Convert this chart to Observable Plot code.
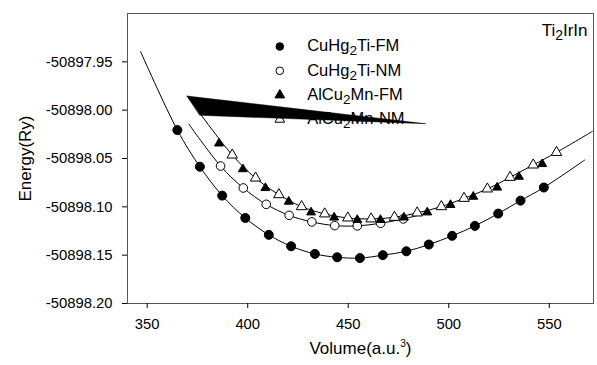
<!DOCTYPE html>
<html><head><meta charset="utf-8">
<script src="https://cdn.jsdelivr.net/npm/d3@7"></script>
<script src="https://cdn.jsdelivr.net/npm/@observablehq/plot@0.6"></script>
<style>body{margin:0;background:#fff}</style>
</head><body><div id="chart"></div>
<script>
// ---- data ----
const xTicks = [350, 400, 450, 500, 550];
const yTicks = [-50897.95, -50898.00, -50898.05, -50898.10, -50898.15, -50898.20];

// CuHg2Ti-FM (filled circles)
const cuFmVol = [365, 376.2, 387.3, 398.8, 410.5, 421.6, 433.4, 444.5, 455.8, 467.2, 478.9, 490.1, 501.7, 513, 524.6, 535.7, 547.3];
const cuFmE = [-50898.0206, -50898.0585, -50898.0884, -50898.1115, -50898.129, -50898.1408, -50898.1487, -50898.1522, -50898.153, -50898.150, -50898.146, -50898.139, -50898.130, -50898.1197, -50898.107, -50898.0936, -50898.080];
const cuFmFitVol = [346.7, 567.6];
const cuFmFitE = [-50897.9394, -50898.0516];

// CuHg2Ti-NM (open circles)
const cuNmVol = [386.5, 397.8, 409.2, 420.6, 431.9, 443.3, 454.5, 466.1, 477.4];
const cuNmE = [-50898.0578, -50898.0805, -50898.0974, -50898.1088, -50898.1156, -50898.1194, -50898.1197, -50898.117, -50898.1125];
const cuNmFitVol = [370.7, 490];
const cuNmFitE = [-50898.0144, -50898.1060];

// AlCu2Mn-FM (filled triangles)
const alFmVol = [385.7, 397.6, 408.8, 420.4, 431.5, 443, 454.5, 466, 477.7, 489.3, 500.9, 512.2, 524.1, 534.9, 546.5];
const alFmE = [-50898.0344, -50898.061, -50898.0805, -50898.0946, -50898.1057, -50898.111, -50898.1135, -50898.1135, -50898.111, -50898.1057, -50898.098, -50898.0895, -50898.080, -50898.0688, -50898.0557];

// AlCu2Mn-NM (open triangles)
const alNmVol = [392.3, 403.9, 415.5, 426.8, 438.3, 449.8, 461.4, 473, 484.3, 496.3, 507.6, 519.2, 530.5, 542, 553.6];
const alNmE = [-50898.0464, -50898.0702, -50898.0874, -50898.0998, -50898.1073, -50898.1115, -50898.1125, -50898.1108, -50898.1063, -50898.0998, -50898.0912, -50898.0815, -50898.0695, -50898.0567, -50898.0437];
const alFitVol = [369.9, 571.4];
const alFitE = [-50897.9854, -50898.022];

// black wedge artefact seen in the reference
const wedgeVol = [369.9, 488.5, 376.2];
const wedgeE = [-50897.9854, -50898.014, -50898.0053];

const legendLabels = ["CuHg_2Ti-FM", "CuHg_2Ti-NM", "AlCu_2Mn-FM", "AlCu_2Mn-NM"];
const legendSymbols = ["circle", "circle", "triangle", "triangle"];
const legendFills = ["black", "white", "black", "white"];

// ---- build tables ----
const pts = (v, e) => v.map((x, i) => ({v: x, e: e[i]}));
const fitLine = (fv, fe, v, e) => [{v: fv[0], e: fe[0]}, ...pts(v, e), {v: fv[1], e: fe[1]}];

const cuFm = pts(cuFmVol, cuFmE);
const cuNm = pts(cuNmVol, cuNmE);
const alFm = pts(alFmVol, alFmE);
const alNm = pts(alNmVol, alNmE);
const cuFmLine = fitLine(cuFmFitVol, cuFmFitE, cuFmVol, cuFmE);
const cuNmLine = fitLine(cuNmFitVol, cuNmFitE, cuNmVol, cuNmE);
const alLine = fitLine(alFitVol, alFitE, alNmVol, alNmE);
const wedge = pts(wedgeVol, wedgeE);

const legendMarks = [];
legendLabels.forEach((lab, i) => {
  legendMarks.push(Plot.dot([0], {frameAnchor: "top-left", dx: 152.3, dy: 33 + 24.3 * i,
    symbol: legendSymbols[i], fill: legendFills[i], stroke: "black", strokeWidth: 1, r: legendSymbols[i] === "circle" ? 3.8 : 3.6}));
  legendMarks.push(Plot.text([lab], {frameAnchor: "top-left", dx: 179.7, dy: 32.5 + 24.3 * i,
    textAnchor: "start", lineAnchor: "middle", fontSize: 16.5, fill: "black"}));
});

const chart = Plot.plot({
  width: 597, height: 365,
  marginLeft: 127, marginRight: 4, marginTop: 13, marginBottom: 62,
  style: {fontFamily: "'Liberation Sans', Arial, sans-serif", fontSize: "14.8px", color: "black", background: "white"},
  x: {domain: [340.2, 572]},
  y: {domain: [-50898.20, -50897.90]},
  marks: [
    Plot.frame({stroke: "#555", strokeWidth: 1}),
    Plot.axisX({ticks: xTicks, tickSize: 5, tickPadding: 10, fontSize: 14.8, label: null, tickFormat: d => String(d)}),
    Plot.axisY({ticks: yTicks, tickSize: 5, tickPadding: 10, fontSize: 14.8, label: null, tickFormat: d => d.toFixed(2)}),
    Plot.line(cuFmLine, {x: "v", y: "e", curve: "catmull-rom", stroke: "black", strokeWidth: 1}),
    Plot.line(cuNmLine, {x: "v", y: "e", curve: "catmull-rom", stroke: "black", strokeWidth: 1}),
    Plot.line(alLine, {x: "v", y: "e", curve: "catmull-rom", stroke: "black", strokeWidth: 1}),
    Plot.dot(cuFm, {x: "v", y: "e", symbol: "circle", r: 4.5, fill: "black", stroke: "black", strokeWidth: 1}),
    Plot.dot(cuNm, {x: "v", y: "e", symbol: "circle", r: 4.3, fill: "white", stroke: "black", strokeWidth: 1}),
    Plot.dot(alFm, {x: "v", y: "e", symbol: "triangle", r: 3.3, fill: "black", stroke: "black", strokeWidth: 1}),
    Plot.dot(alNm, {x: "v", y: "e", symbol: "triangle", r: 3.9, fill: "white", stroke: "black", strokeWidth: 1}),
    ...legendMarks,
    Plot.line(wedge, {x: "v", y: "e", fill: "black", stroke: "black", strokeWidth: 0.5, curve: "linear-closed"}),
    Plot.text(["Energy(Ry)"], {frameAnchor: "left", dx: -102, rotate: -90, textAnchor: "middle", lineAnchor: "middle", fontSize: 17, fill: "black"}),
    Plot.text(["Volume(a.u.^3)"], {frameAnchor: "bottom", dy: 45, textAnchor: "middle", lineAnchor: "middle", fontSize: 17, fill: "black"}),
    Plot.text(["Ti_2IrIn"], {frameAnchor: "top-right", dx: -6, dy: 17, textAnchor: "end", lineAnchor: "middle", fontSize: 17, fill: "black"})
  ]
});

// subscripts / superscripts
const ns = "http://www.w3.org/2000/svg";
chart.querySelectorAll("text").forEach(t => {
  const s = t.textContent;
  let mark = null, shift = 0, size = "0.82em";
  if (s.includes("_2")) { mark = "_2"; shift = 4; }
  else if (s.includes("^3")) { mark = "^3"; shift = -7; size = "0.6em"; }
  if (!mark) return;
  const [a, b] = s.split(mark);
  t.textContent = "";
  const t1 = document.createElementNS(ns, "tspan"); t1.textContent = a;
  const t2 = document.createElementNS(ns, "tspan"); t2.textContent = mark.slice(1);
  t2.setAttribute("dy", String(shift)); t2.setAttribute("font-size", size);
  const t3 = document.createElementNS(ns, "tspan"); t3.textContent = b; t3.setAttribute("dy", String(-shift));
  t.append(t1, t2, t3);
});

document.getElementById("chart").append(chart);
</script>
</body></html>
